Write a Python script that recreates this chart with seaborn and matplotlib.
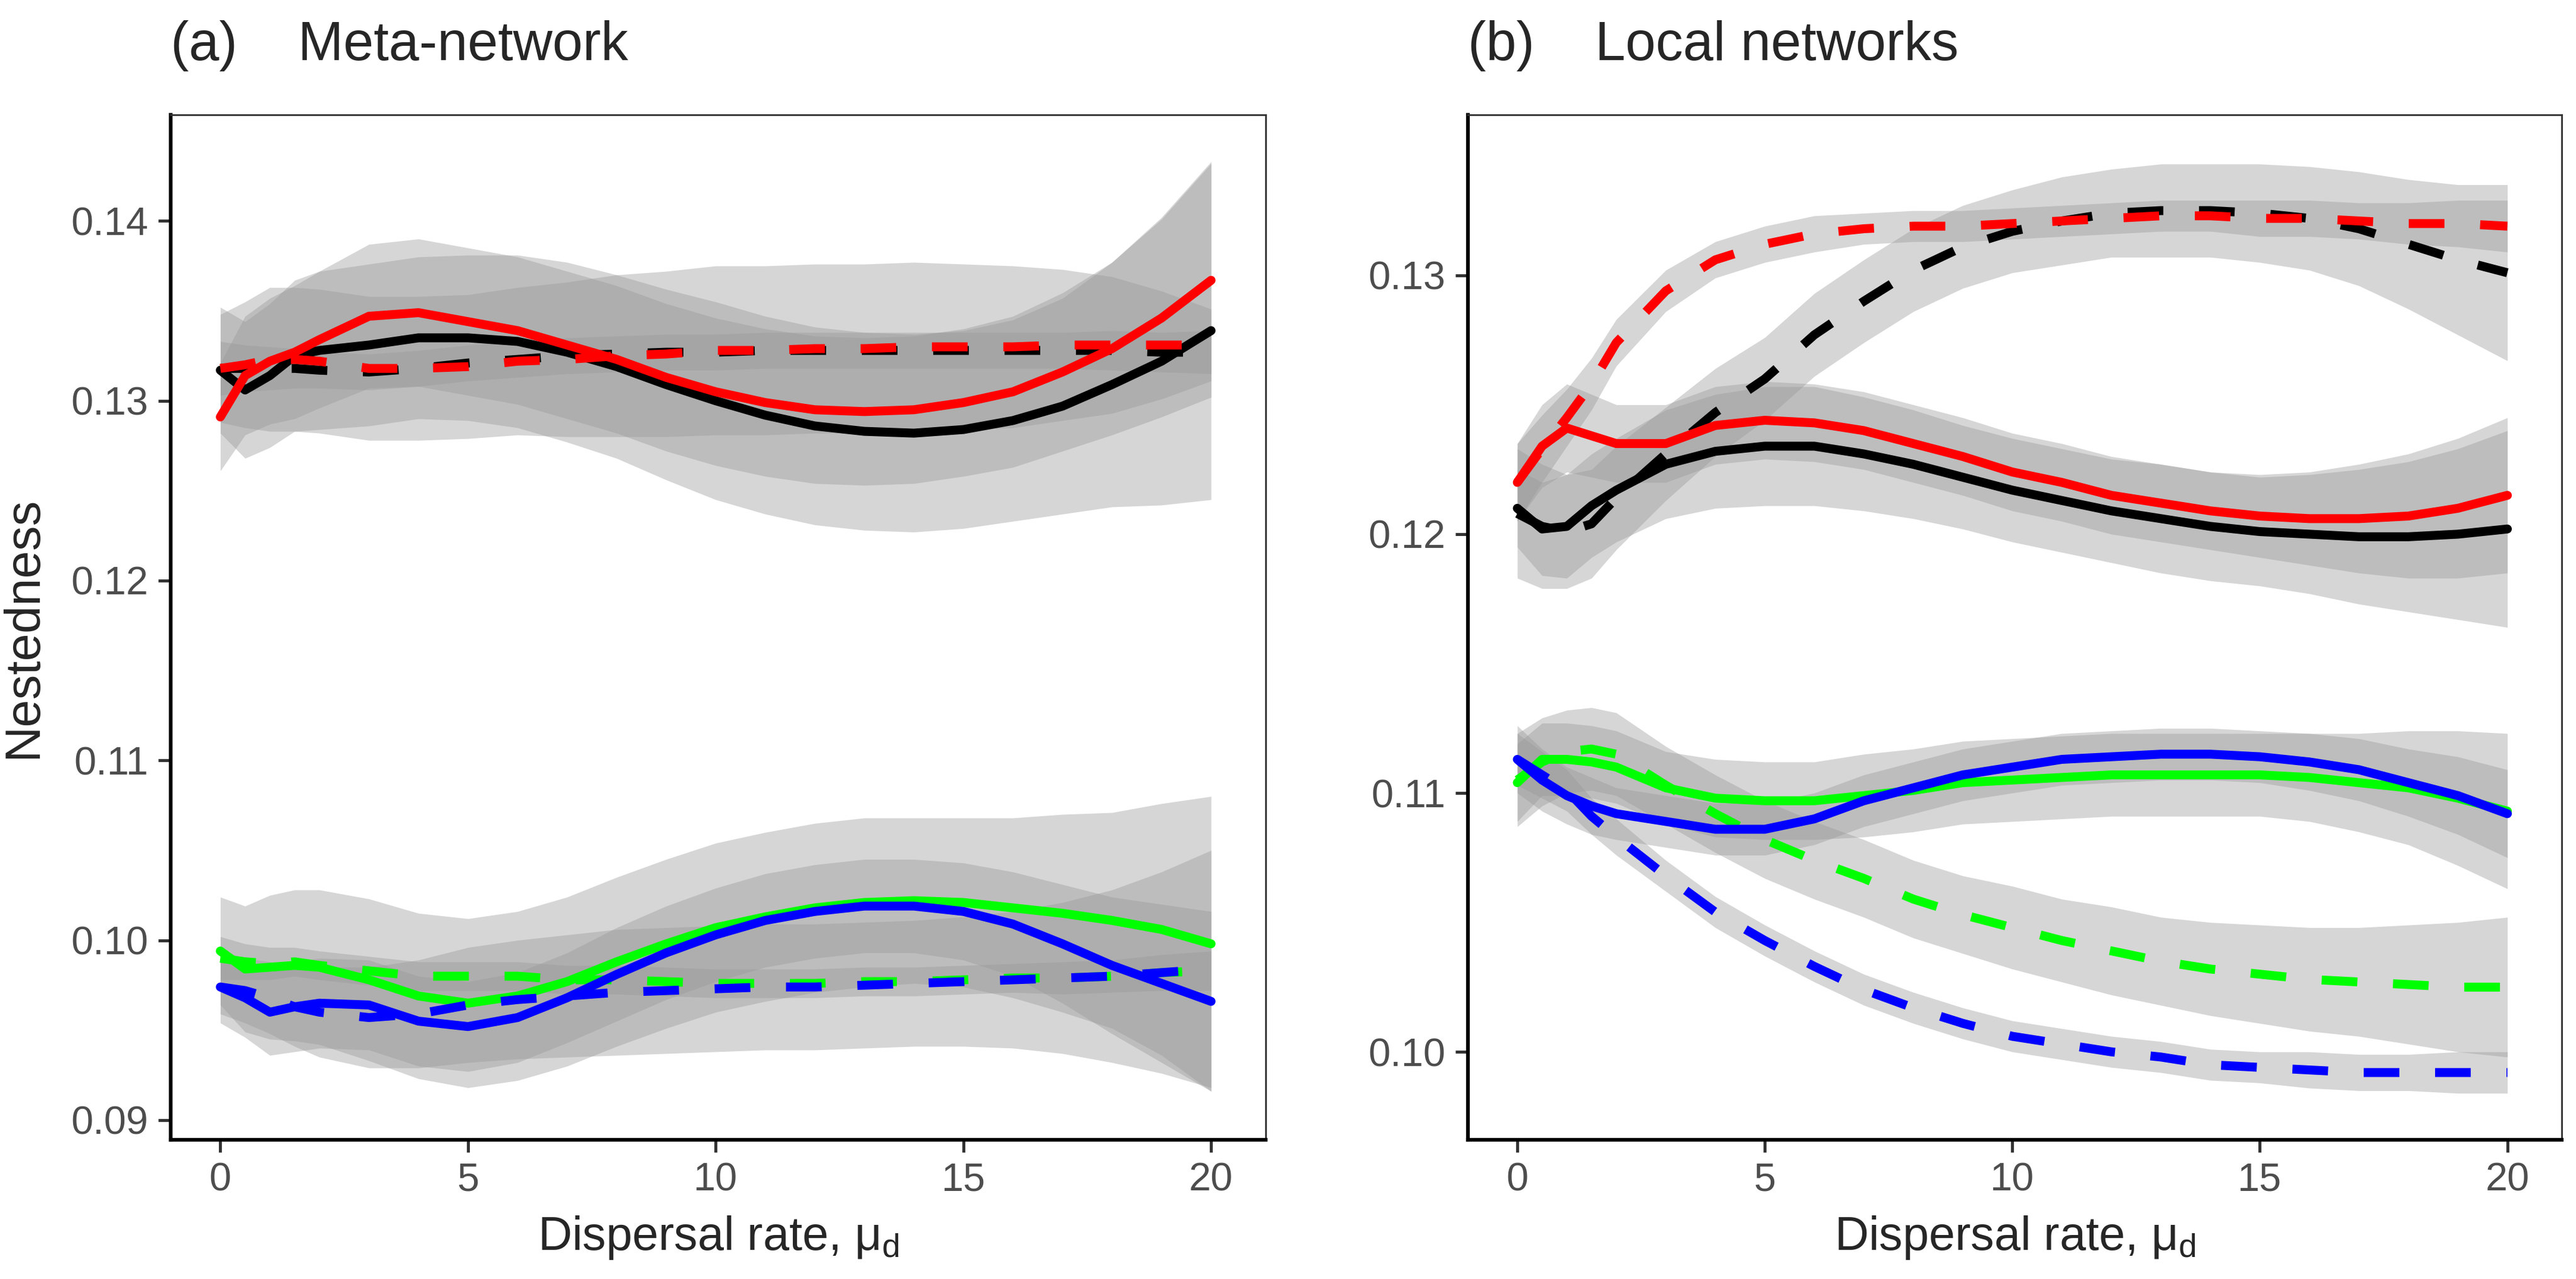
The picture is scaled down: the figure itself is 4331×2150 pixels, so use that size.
import matplotlib
matplotlib.use("Agg")
import matplotlib.pyplot as plt
import seaborn as sns

sns.set_style("white")
plt.rcParams['font.family'] = ['Liberation Sans Narrow', 'Liberation Sans', 'DejaVu Sans']
plt.rcParams['mathtext.fontset'] = 'custom'
plt.rcParams['mathtext.rm'] = 'Liberation Sans'

# dispersal rate grid
x = [0, 0.5, 1, 1.5, 2, 3, 4, 5, 6, 7, 8, 9, 10, 11, 12, 13, 14, 15, 16, 17, 18, 19, 20]

# (a) meta-network: fitted curves and ribbon half-widths
a_red_solid = [0.1291, 0.1314, 0.1322, 0.1327, 0.1334, 0.1347, 0.1349, 0.1344, 0.1339, 0.1331, 0.1323, 0.1313,
               0.1305, 0.1299, 0.1295, 0.1294, 0.1295, 0.1299, 0.1305, 0.1316, 0.1329, 0.1346, 0.1367]
a_red_dash = [0.1318, 0.1320, 0.1323, 0.1323, 0.1322, 0.1318, 0.1318, 0.1319, 0.1322, 0.1323, 0.1325, 0.1326,
              0.1328, 0.1328, 0.1329, 0.1329, 0.1330, 0.1330, 0.1330, 0.1331, 0.1331, 0.1331, 0.1331]
a_blk_solid = [0.1317, 0.1306, 0.1314, 0.1325, 0.1328, 0.1331, 0.1335, 0.1335, 0.1333, 0.1327, 0.1319, 0.1309,
               0.1300, 0.1292, 0.1286, 0.1283, 0.1282, 0.1284, 0.1289, 0.1297, 0.1309, 0.1322, 0.1339]
a_blk_dash = [0.1318, 0.1318, 0.1318, 0.1318, 0.1317, 0.1316, 0.1318, 0.1321, 0.1323, 0.1325, 0.1326, 0.1327,
              0.1327, 0.1328, 0.1328, 0.1328, 0.1328, 0.1328, 0.1328, 0.1328, 0.1328, 0.1327, 0.1327]
a_grn_solid = [0.0994, 0.0984, 0.0985, 0.0986, 0.0985, 0.0978, 0.0969, 0.0965, 0.0969, 0.0977, 0.0988, 0.0998,
               0.1007, 0.1013, 0.1018, 0.1021, 0.1022, 0.1021, 0.1018, 0.1015, 0.1011, 0.1006, 0.0998]
a_grn_dash = [0.0990, 0.0988, 0.0987, 0.0988, 0.0986, 0.0983, 0.0980, 0.0980, 0.0980, 0.0978, 0.0978, 0.0977,
              0.0976, 0.0976, 0.0976, 0.0977, 0.0977, 0.0978, 0.0979, 0.0979, 0.0980, 0.0982, 0.0983]
a_blu_solid = [0.0974, 0.0968, 0.0960, 0.0963, 0.0965, 0.0964, 0.0955, 0.0952, 0.0957, 0.0968, 0.0981, 0.0993,
               0.1003, 0.1011, 0.1016, 0.1019, 0.1019, 0.1016, 0.1009, 0.0998, 0.0986, 0.0976, 0.0966]
a_blu_dash = [0.0974, 0.0972, 0.0968, 0.0963, 0.0960, 0.0957, 0.0959, 0.0964, 0.0967, 0.0969, 0.0971, 0.0972,
              0.0973, 0.0974, 0.0974, 0.0975, 0.0976, 0.0977, 0.0978, 0.0979, 0.0980, 0.0982, 0.0984]

a_red_solid_se = [0.0030, 0.0033, 0.0035, 0.0037, 0.0038, 0.0040, 0.0041, 0.0041, 0.0041, 0.0041, 0.0041, 0.0041,
                  0.0041, 0.0041, 0.0041, 0.0041, 0.0041, 0.0041, 0.0042, 0.0044, 0.0048, 0.0055, 0.0065]
a_red_dash_se = [0.0030, 0.0035, 0.0040, 0.0040, 0.0040, 0.0040, 0.0040, 0.0040, 0.0041, 0.0043, 0.0045, 0.0046,
                 0.0047, 0.0047, 0.0047, 0.0047, 0.0047, 0.0046, 0.0045, 0.0042, 0.0038, 0.0030, 0.0020]
a_blk_solid_se = [0.0035, 0.0038, 0.0040, 0.0042, 0.0044, 0.0045, 0.0045, 0.0046, 0.0048, 0.0050, 0.0051, 0.0053,
                  0.0055, 0.0055, 0.0055, 0.0055, 0.0055, 0.0055, 0.0056, 0.0060, 0.0068, 0.0080, 0.0094]
a_blk_dash_se = [0.0015, 0.0013, 0.0012, 0.0011, 0.0010, 0.0010, 0.0010, 0.0010, 0.0010, 0.0010, 0.0010, 0.0010,
                 0.0010, 0.0010, 0.0010, 0.0010, 0.0010, 0.0010, 0.0010, 0.0010, 0.0011, 0.0011, 0.0012]
a_grn_solid_se = [0.0030, 0.0035, 0.0040, 0.0042, 0.0043, 0.0045, 0.0046, 0.0047, 0.0047, 0.0047, 0.0047, 0.0047,
                  0.0047, 0.0047, 0.0047, 0.0047, 0.0046, 0.0047, 0.0050, 0.0055, 0.0060, 0.0070, 0.0082]
a_grn_dash_se = [0.0012, 0.0010, 0.0009, 0.0008, 0.0008, 0.0008, 0.0008, 0.0008, 0.0008, 0.0008, 0.0008, 0.0008,
                 0.0008, 0.0008, 0.0008, 0.0008, 0.0008, 0.0008, 0.0008, 0.0009, 0.0009, 0.0010, 0.0011]
a_blu_solid_se = [0.0020, 0.0022, 0.0024, 0.0025, 0.0025, 0.0025, 0.0025, 0.0025, 0.0025, 0.0025, 0.0026, 0.0026,
                  0.0026, 0.0026, 0.0026, 0.0026, 0.0026, 0.0027, 0.0029, 0.0033, 0.0038, 0.0044, 0.0050]
a_blu_dash_se = [0.0015, 0.0018, 0.0020, 0.0022, 0.0025, 0.0028, 0.0030, 0.0032, 0.0033, 0.0034, 0.0035, 0.0035,
                 0.0035, 0.0035, 0.0035, 0.0035, 0.0035, 0.0036, 0.0038, 0.0042, 0.0048, 0.0056, 0.0066]

# (b) local networks
b_red_solid = [0.1220, 0.1234, 0.1241, 0.1238, 0.1235, 0.1235, 0.1242, 0.1244, 0.1243, 0.1240, 0.1235, 0.1230,
               0.1224, 0.1220, 0.1215, 0.1212, 0.1209, 0.1207, 0.1206, 0.1206, 0.1207, 0.1210, 0.1215]
b_red_dash = [0.1220, 0.1233, 0.1245, 0.1258, 0.1274, 0.1294, 0.1306, 0.1312, 0.1316, 0.1318, 0.1319, 0.1319,
              0.1320, 0.1321, 0.1322, 0.1323, 0.1323, 0.1322, 0.1322, 0.1321, 0.1320, 0.1320, 0.1319]
b_blk_solid = [0.1210, 0.1202, 0.1203, 0.1211, 0.1217, 0.1227, 0.1232, 0.1234, 0.1234, 0.1231, 0.1227, 0.1222,
               0.1217, 0.1213, 0.1209, 0.1206, 0.1203, 0.1201, 0.1200, 0.1199, 0.1199, 0.1200, 0.1202]
b_blk_dash = [0.1208, 0.1203, 0.1201, 0.1204, 0.1214, 0.1231, 0.1247, 0.1260, 0.1277, 0.1290, 0.1302, 0.1311,
              0.1317, 0.1321, 0.1324, 0.1325, 0.1325, 0.1324, 0.1322, 0.1318, 0.1312, 0.1306, 0.1301]
b_grn_solid = [0.1104, 0.1113, 0.1113, 0.1112, 0.1110, 0.1102, 0.1098, 0.1097, 0.1097, 0.1099, 0.1101, 0.1104,
               0.1105, 0.1106, 0.1107, 0.1107, 0.1107, 0.1107, 0.1106, 0.1104, 0.1102, 0.1098, 0.1093]
b_grn_dash = [0.1105, 0.1112, 0.1116, 0.1117, 0.1115, 0.1103, 0.1092, 0.1082, 0.1074, 0.1067, 0.1059, 0.1053,
              0.1048, 0.1043, 0.1039, 0.1035, 0.1032, 0.1030, 0.1028, 0.1027, 0.1026, 0.1025, 0.1025]
b_blu_solid = [0.1113, 0.1105, 0.1099, 0.1095, 0.1092, 0.1089, 0.1086, 0.1086, 0.1090, 0.1097, 0.1102, 0.1107,
               0.1110, 0.1113, 0.1114, 0.1115, 0.1115, 0.1114, 0.1112, 0.1109, 0.1104, 0.1099, 0.1092]
b_blu_dash = [0.1113, 0.1107, 0.1101, 0.1091, 0.1083, 0.1068, 0.1054, 0.1043, 0.1033, 0.1024, 0.1017, 0.1011,
              0.1006, 0.1003, 0.1000, 0.0998, 0.0995, 0.0994, 0.0993, 0.0992, 0.0992, 0.0992, 0.0992]

b_red_solid_se = [0.0015, 0.0016, 0.0017, 0.0016, 0.0015, 0.0015, 0.0015, 0.0015, 0.0015, 0.0015, 0.0015, 0.0015,
                  0.0015, 0.0015, 0.0015, 0.0015, 0.0015, 0.0016, 0.0018, 0.0021, 0.0024, 0.0027, 0.0030]
b_red_dash_se = [0.0015, 0.0013, 0.0011, 0.0010, 0.0009, 0.0008, 0.0007, 0.0007, 0.0007, 0.0006, 0.0006, 0.0006,
                 0.0006, 0.0006, 0.0006, 0.0006, 0.0006, 0.0007, 0.0007, 0.0007, 0.0008, 0.0009, 0.0010]
b_blk_solid_se = [0.0015, 0.0018, 0.0020, 0.0020, 0.0020, 0.0021, 0.0022, 0.0023, 0.0023, 0.0022, 0.0021, 0.0020,
                  0.0020, 0.0020, 0.0020, 0.0021, 0.0021, 0.0021, 0.0023, 0.0026, 0.0029, 0.0033, 0.0038]
b_blk_dash_se = [0.0025, 0.0024, 0.0022, 0.0021, 0.0020, 0.0018, 0.0017, 0.0016, 0.0016, 0.0016, 0.0016, 0.0016,
                 0.0016, 0.0017, 0.0017, 0.0018, 0.0018, 0.0019, 0.0020, 0.0022, 0.0025, 0.0029, 0.0034]
b_grn_solid_se = [0.0015, 0.0014, 0.0014, 0.0014, 0.0014, 0.0014, 0.0015, 0.0015, 0.0015, 0.0016, 0.0016, 0.0016,
                  0.0016, 0.0016, 0.0016, 0.0016, 0.0016, 0.0016, 0.0017, 0.0019, 0.0022, 0.0026, 0.0030]
b_grn_dash_se = [0.0018, 0.0017, 0.0016, 0.0016, 0.0016, 0.0015, 0.0015, 0.0015, 0.0015, 0.0015, 0.0015, 0.0015,
                 0.0016, 0.0016, 0.0017, 0.0017, 0.0018, 0.0019, 0.0020, 0.0021, 0.0023, 0.0025, 0.0027]
b_blu_solid_se = [0.0013, 0.0012, 0.0011, 0.0011, 0.0010, 0.0010, 0.0010, 0.0010, 0.0010, 0.0010, 0.0010, 0.0010,
                  0.0010, 0.0010, 0.0010, 0.0010, 0.0010, 0.0010, 0.0011, 0.0012, 0.0013, 0.0015, 0.0017]
b_blu_dash_se = [0.0010, 0.0009, 0.0008, 0.0007, 0.0007, 0.0006, 0.0006, 0.0006, 0.0006, 0.0006, 0.0006, 0.0006,
                 0.0006, 0.0006, 0.0006, 0.0006, 0.0006, 0.0006, 0.0007, 0.0007, 0.0007, 0.0008, 0.0008]

a_yticks = [0.09, 0.10, 0.11, 0.12, 0.13, 0.14]
b_yticks = [0.10, 0.11, 0.12, 0.13]
xticks = [0, 5, 10, 15, 20]

DASH = (0, (4, 4))

panel_a = [
    (a_grn_solid, a_grn_solid_se, '#00FF00', '-'),
    (a_grn_dash, a_grn_dash_se, '#00FF00', DASH),
    (a_blu_solid, a_blu_solid_se, '#0000FF', '-'),
    (a_blu_dash, a_blu_dash_se, '#0000FF', DASH),
    (a_blk_solid, a_blk_solid_se, '#000000', '-'),
    (a_blk_dash, a_blk_dash_se, '#000000', DASH),
    (a_red_solid, a_red_solid_se, '#FF0000', '-'),
    (a_red_dash, a_red_dash_se, '#FF0000', DASH),
]
panel_b = [
    (b_grn_solid, b_grn_solid_se, '#00FF00', '-'),
    (b_grn_dash, b_grn_dash_se, '#00FF00', DASH),
    (b_blu_solid, b_blu_solid_se, '#0000FF', '-'),
    (b_blu_dash, b_blu_dash_se, '#0000FF', DASH),
    (b_blk_solid, b_blk_solid_se, '#000000', '-'),
    (b_blk_dash, b_blk_dash_se, '#000000', DASH),
    (b_red_solid, b_red_solid_se, '#FF0000', '-'),
    (b_red_dash, b_red_dash_se, '#FF0000', DASH),
]

fig = plt.figure(figsize=(4331 / 300, 2150 / 300), dpi=300)
ax_a = fig.add_axes([0.0663, 0.1088, 0.4250, 0.8014])
ax_b = fig.add_axes([0.5698, 0.1088, 0.4247, 0.8014])


def draw_panel(ax, series, title, yticks, ylim):
    # ribbons first, then the fitted lines on top
    for y, se, color, ls in series:
        lo = [v - s for v, s in zip(y, se)]
        hi = [v + s for v, s in zip(y, se)]
        ax.fill_between(x, lo, hi, color='#999999', alpha=0.4, linewidth=0)
    for y, se, color, ls in series:
        sns.lineplot(x=x, y=y, ax=ax, color=color, linewidth=3.6, linestyle=ls,
                     errorbar=None, legend=False)
    ax.set_xlim(-1.0, 21.1)
    ax.set_ylim(*ylim)
    ax.set_xticks(xticks)
    ax.set_yticks(yticks)
    ax.set_yticklabels([f'{t:.2f}' for t in yticks])
    ax.tick_params(axis='both', labelsize=16, labelcolor='#4D4D4D', color='#333333',
                   length=5, width=1.2, direction='out', pad=4, left=True, bottom=True)
    for side in ['left', 'bottom']:
        ax.spines[side].set_color('black')
        ax.spines[side].set_linewidth(1.5)
    for side in ['top', 'right']:
        ax.spines[side].set_color('#333333')
        ax.spines[side].set_linewidth(0.7)
    ax.set_xlabel('Dispersal rate, μ$_\\mathrm{d}$', fontsize=19, labelpad=6)
    ax.set_ylabel('')
    ax.set_title(title, loc='left', fontsize=22, pad=22)


draw_panel(ax_a, panel_a, '(a)    Meta-network', a_yticks, (0.0889, 0.1459))
draw_panel(ax_b, panel_b, '(b)    Local networks', b_yticks, (0.0966, 0.1362))
ax_a.set_ylabel('Nestedness', fontsize=20, labelpad=10)

fig.savefig('out.png', dpi=300)
